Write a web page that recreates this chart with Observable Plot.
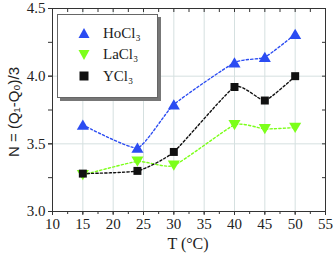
<!DOCTYPE html>
<html><head><meta charset="utf-8">
<script src="https://cdn.jsdelivr.net/npm/d3@7"></script>
<script src="https://cdn.jsdelivr.net/npm/@observablehq/plot@0.6"></script>
<style>
body{margin:0;background:#fff;}
#wrap{position:relative;width:334px;height:255px;}
#legend{position:absolute;left:57px;top:14px;width:99px;height:82px;background:#fff;border:1px solid #666;box-shadow:3px 3px 0 #777;font-family:"Liberation Serif",serif;font-size:15px;color:#222;}
.item{position:absolute;left:0;height:20px;display:flex;align-items:center;}
.item svg{margin-left:20px;margin-right:13px;}
</style>
</head><body>
<div id="wrap"><div id="legend"></div></div>
<script>
const temps = [15, 24, 30, 40, 45, 50];
const hoCl3 = [3.64, 3.47, 3.79, 4.10, 4.14, 4.31];
const laCl3 = [3.27, 3.37, 3.34, 3.64, 3.61, 3.62];
const yCl3  = [3.28, 3.30, 3.44, 3.92, 3.82, 4.00];
const seriesNames = ["HoCl₃", "LaCl₃", "YCl₃"];
const seriesColors = ["#2b4cf2", "#7cff1a", "#111111"];
const xTicks = [10, 15, 20, 25, 30, 35, 40, 45, 50, 55];
const yTicks = [3.0, 3.5, 4.0, 4.5];

const triUp = {draw(ctx, size){ const a = Math.sqrt(size); ctx.moveTo(0, -a*0.55); ctx.lineTo(a*0.62, a*0.5); ctx.lineTo(-a*0.62, a*0.5); ctx.closePath(); }};
const triDown = {draw(ctx, size){ const a = Math.sqrt(size); ctx.moveTo(0, a*0.55); ctx.lineTo(a*0.62, -a*0.5); ctx.lineTo(-a*0.62, -a*0.5); ctx.closePath(); }};
const symbols = [triUp, triDown, "square"];
const radii = [5.5, 5.5, 4.5];

const data = [];
[hoCl3, laCl3, yCl3].forEach((vals, i) => vals.forEach((v, j) => data.push({T: temps[j], N: v, s: seriesNames[i], i})));

const minorX = d3.range(10, 55.1, 2.5);
const minorY = d3.range(3.0, 4.51, 0.25);

const marks = [
  Plot.gridX(xTicks, {stroke: "#d5e0e0", strokeOpacity: 1, strokeWidth: 1}),
  Plot.gridY(yTicks, {stroke: "#d5e0e0", strokeOpacity: 1, strokeWidth: 1}),
  Plot.axisX(minorX, {tickSize: 3, text: null, stroke: "#333", label: null}),
  Plot.axisX(xTicks, {tickSize: 4, tickPadding: 3, fontSize: 15, fontFamily: "Liberation Serif, serif", fill: "#222", stroke: "#333", label: null}),
  Plot.axisX(minorX, {anchor: "top", tickSize: -3, text: null, stroke: "#333", label: null}),
  Plot.axisY(minorY, {tickSize: 4, text: null, stroke: "#333", label: null}),
  Plot.axisY(yTicks, {tickSize: 4, tickPadding: 3, fontSize: 15, fontFamily: "Liberation Serif, serif", fill: "#222", tickFormat: d3.format(".1f"), stroke: "#333", label: null}),
  Plot.axisY(minorY, {anchor: "right", tickSize: -4, text: null, stroke: "#333", label: null}),
  Plot.frame({stroke: "#333", strokeWidth: 1}),
];
[hoCl3, laCl3, yCl3].forEach((vals, i) => {
  const d = data.filter(e => e.i === i);
  marks.push(Plot.line(d, {x: "T", y: "N", stroke: seriesColors[i], strokeWidth: 1.4, strokeDasharray: "2.2,2.2", curve: "cardinal", tension: 0.5}));
});
[hoCl3, laCl3, yCl3].forEach((vals, i) => {
  const d = data.filter(e => e.i === i);
  marks.push(Plot.dot(d, {x: "T", y: "N", fill: seriesColors[i], stroke: "none", symbol: symbols[i], r: radii[i]}));
});

const chart = Plot.plot({
  width: 334, height: 255,
  marginLeft: 52, marginRight: 9, marginTop: 8, marginBottom: 44,
  x: {domain: [10, 55], label: null},
  y: {domain: [3.0, 4.5], label: null},
  style: {background: "#fff", overflow: "visible"},
  marks
});
document.getElementById("wrap").prepend(chart);

const svg = d3.select(chart);
svg.append("text").attr("x", 188).attr("y", 249).attr("text-anchor", "middle")
  .attr("font-family", "Liberation Serif, serif").attr("font-size", 16).attr("fill", "#222").text("T (°C)");
svg.append("text").attr("transform", "translate(19,112) rotate(-90)").attr("text-anchor", "middle")
  .attr("font-family", "Liberation Sans, Arial, sans-serif").attr("font-size", 15).attr("fill", "#222").text("N = (Q₁-Q₀)/3");

const legend = document.getElementById("legend");
const symPaths = [
  "M6,1 L11.5,11 L0.5,11 Z",
  "M0.5,1 L11.5,1 L6,11 Z",
  "M1.5,1.5 L10.5,1.5 L10.5,10.5 L1.5,10.5 Z"
];
seriesNames.forEach((n, i) => {
  const div = document.createElement("div");
  div.className = "item";
  div.style.top = (8 + i * 21.5) + "px";
  div.innerHTML = `<svg width="12" height="12"><path d="${symPaths[i]}" fill="${seriesColors[i]}"/></svg><span>${n}</span>`;
  legend.appendChild(div);
});
</script>
</body></html>
